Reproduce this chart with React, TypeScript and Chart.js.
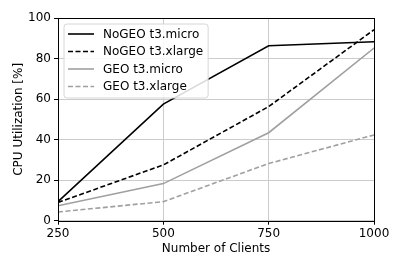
import React, { useEffect, useRef } from 'react';
import { Chart, registerables } from 'chart.js';

Chart.register(...registerables);

const clients = [250, 500, 750, 1000];
const noGeoMicro = [9.4, 57.5, 86.3, 88.3];
const noGeoXlarge = [9.0, 27.5, 56.3, 94.2];
const geoMicro = [7.4, 18.3, 43.4, 85.2];
const geoXlarge = [4.3, 9.4, 28.2, 42.3];
const seriesLabels = ['NoGEO t3.micro', 'NoGEO t3.xlarge', 'GEO t3.micro', 'GEO t3.xlarge'];
const xTicks = [250, 500, 750, 1000];
const yTicks = [0, 20, 40, 60, 80, 100];
const xTitle = 'Number of Clients';
const yTitle = 'CPU Utilization [%]';

const FONT = '"DejaVu Sans", sans-serif';
const FS = 12;
const BLACK = '#000000';
const GRAY = '#a0a0a0';
const DASH = [5, 2.5];

const styles = [
  { color: BLACK, dash: [] as number[] },
  { color: BLACK, dash: DASH },
  { color: GRAY, dash: [] as number[] },
  { color: GRAY, dash: DASH },
];

const frameAndLegend = {
  id: 'frameAndLegend',
  afterDatasetsDraw(chart: any) {
    const { ctx, chartArea } = chart;
    const { left, right, top, bottom } = chartArea;
    ctx.save();
    // frame
    ctx.strokeStyle = '#000';
    ctx.lineWidth = 1;
    ctx.setLineDash([]);
    ctx.strokeRect(Math.round(left) + 0.5, Math.round(top) + 0.5, Math.round(right - left), Math.round(bottom - top));

    // legend
    ctx.font = `${FS}px ${FONT}`;
    let maxW = 0;
    seriesLabels.forEach((l) => { maxW = Math.max(maxW, ctx.measureText(l).width); });
    const bx = left + 6;
    const by = top + 6;
    const bw = 39 + maxW + 5;
    const bh = 74;
    const r = 3;
    ctx.beginPath();
    ctx.moveTo(bx + r, by);
    ctx.lineTo(bx + bw - r, by);
    ctx.quadraticCurveTo(bx + bw, by, bx + bw, by + r);
    ctx.lineTo(bx + bw, by + bh - r);
    ctx.quadraticCurveTo(bx + bw, by + bh, bx + bw - r, by + bh);
    ctx.lineTo(bx + r, by + bh);
    ctx.quadraticCurveTo(bx, by + bh, bx, by + bh - r);
    ctx.lineTo(bx, by + r);
    ctx.quadraticCurveTo(bx, by, bx + r, by);
    ctx.closePath();
    ctx.fillStyle = 'rgba(255,255,255,0.85)';
    ctx.fill();
    ctx.strokeStyle = '#d6d6d6';
    ctx.lineWidth = 1;
    ctx.stroke();

    seriesLabels.forEach((label, i) => {
      const y = by + 10 + i * 17.5;
      const st = styles[i];
      ctx.beginPath();
      ctx.setLineDash(st.dash);
      ctx.strokeStyle = st.color;
      ctx.lineWidth = 1.6;
      ctx.moveTo(bx + 4, y);
      ctx.lineTo(bx + 30, y);
      ctx.stroke();
      ctx.setLineDash([]);
      ctx.fillStyle = '#000';
      ctx.textAlign = 'left';
      ctx.textBaseline = 'middle';
      ctx.fillText(label, bx + 39, y + 0.5);
    });

    // axis titles
    ctx.fillStyle = '#000';
    ctx.font = `${FS}px ${FONT}`;
    ctx.textAlign = 'center';
    ctx.textBaseline = 'middle';
    ctx.fillText(xTitle, (left + right) / 2, 248.5);
    ctx.save();
    ctx.translate(19, (top + bottom) / 2);
    ctx.rotate(-Math.PI / 2);
    ctx.fillText(yTitle, 0, 0);
    ctx.restore();
    ctx.restore();
  },
};

export default function App() {
  const ref = useRef<HTMLCanvasElement | null>(null);
  useEffect(() => {
    document.body.style.margin = '0';
    const series = [noGeoMicro, noGeoXlarge, geoMicro, geoXlarge];
    const chart = new Chart(ref.current as HTMLCanvasElement, {
      type: 'line',
      data: {
        datasets: series.map((vals, i) => ({
          label: seriesLabels[i],
          data: vals.map((v, j) => ({ x: clients[j], y: v })),
          borderColor: styles[i].color,
          borderDash: styles[i].dash,
          borderWidth: 1.6,
          pointRadius: 0,
          tension: 0,
          fill: false,
        })),
      },
      options: {
        animation: false,
        responsive: true,
        maintainAspectRatio: false,
        layout: { padding: { left: 0, top: 18, right: 29, bottom: 0 } },
        plugins: { legend: { display: false }, tooltip: { enabled: false } },
        scales: {
          x: {
            type: 'linear',
            min: 250,
            max: 1000,
            afterBuildTicks: (s: any) => { s.ticks = xTicks.map((v) => ({ value: v })); },
            afterFit: (s: any) => { s.height = 48.3; },
            grid: { color: '#cccccc', tickColor: '#000', tickLength: 4, lineWidth: 1 },
            border: { display: false },
            ticks: {
              color: '#000',
              font: { family: FONT, size: FS },
              padding: 2,
              maxRotation: 0,
              callback: (v: any) => String(v),
            },
          },
          y: {
            min: 0,
            max: 100,
            afterBuildTicks: (s: any) => { s.ticks = yTicks.map((v) => ({ value: v })); },
            afterFit: (s: any) => { s.width = 58; },
            grid: { color: '#cccccc', tickColor: '#000', tickLength: 4, lineWidth: 1 },
            border: { display: false },
            ticks: {
              color: '#000',
              font: { family: FONT, size: FS },
              padding: 3,
              callback: (v: any) => String(v),
            },
          },
        },
      },
      plugins: [frameAndLegend],
    });
    return () => chart.destroy();
  }, []);
  return (
    <div style={{ position: 'relative', width: 403, height: 269 }}>
      <canvas ref={ref} />
    </div>
  );
}
